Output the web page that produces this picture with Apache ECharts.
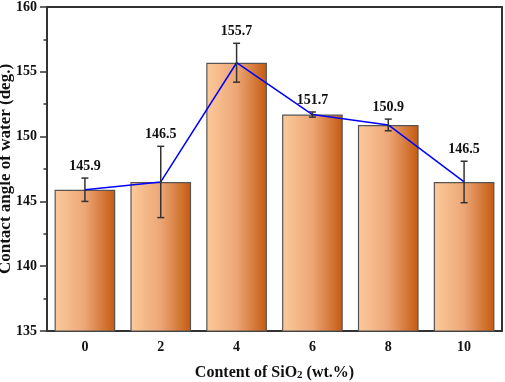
<!DOCTYPE html>
<html>
<head>
<meta charset="utf-8">
<script src="https://cdn.jsdelivr.net/npm/echarts@6/dist/echarts.min.js"></script>
<style>
  html, body { margin: 0; padding: 0; background: #fff; }
  #chart { width: 505px; height: 382px; }
</style>
</head>
<body>
<div id="chart"></div>
<script>
// SiO2 content (wt.%) vs water contact angle
const categories = ['0', '2', '4', '6', '8', '10']
const angles = [145.9, 146.5, 155.7, 151.7, 150.9, 146.5]
const errors = [0.9, 2.75, 1.5, 0.2, 0.45, 1.6]
const yTicks = { min: 135, max: 160, step: 5 }

const FONT = '"Liberation Serif", "Times New Roman", serif'
const AXIS_COLOR = '#333'

const chart = echarts.init(document.getElementById('chart'), null, { renderer: 'canvas' })

const barGradient = new echarts.graphic.LinearGradient(0, 0, 1, 0, [
  { offset: 0, color: '#fcca9b' },
  { offset: 0.5, color: '#eda676' },
  { offset: 1, color: '#c45a10' },
])

function renderError(params, api) {
  const x = api.value(0)
  const v = api.value(1)
  const e = api.value(2)
  const top = api.coord([x, v + e])
  const bot = api.coord([x, v - e])
  const cap = 3.5
  const style = { stroke: AXIS_COLOR, lineWidth: 1.5 }
  return {
    type: 'group',
    children: [
      { type: 'line', shape: { x1: top[0], y1: top[1], x2: bot[0], y2: bot[1] }, style },
      { type: 'line', shape: { x1: top[0] - cap, y1: top[1], x2: top[0] + cap, y2: top[1] }, style },
      { type: 'line', shape: { x1: bot[0] - cap, y1: bot[1], x2: bot[0] + cap, y2: bot[1] }, style },
      {
        type: 'text',
        x: top[0],
        y: top[1] - 5,
        style: {
          text: v.toFixed(1),
          fill: '#111',
          font: 'bold 14px ' + FONT,
          align: 'center',
          verticalAlign: 'bottom',
        },
      },
    ],
  }
}

const option = {
  animation: false,
  grid: { left: 47, right: 3, top: 7, bottom: 51, containLabel: false, outerBoundsMode: 'none' },
  xAxis: [
    {
      type: 'category',
      data: categories,
      axisLine: { lineStyle: { color: AXIS_COLOR, width: 2 } },
      axisTick: { alignWithLabel: true, length: 5, lineStyle: { color: AXIS_COLOR, width: 1.5 } },
      axisLabel: { color: '#111', fontFamily: FONT, fontWeight: 'bold', fontSize: 14, margin: 9 },
      name: '{a|Content of SiO}{sub|2}{a| (wt.%)}',
      nameLocation: 'middle',
      nameGap: 33,
      nameMoveOverlap: false,
      nameTextStyle: {
        rich: {
          a: { fontFamily: FONT, fontWeight: 'bold', fontSize: 16, color: '#111' },
          sub: { fontFamily: FONT, fontWeight: 'bold', fontSize: 11, color: '#111', verticalAlign: 'bottom', padding: [6, 0, 0, 0] },
        },
      },
    },
    {
      type: 'category',
      position: 'top',
      data: categories,
      axisLine: { lineStyle: { color: AXIS_COLOR, width: 2 } },
      axisTick: { show: false },
      axisLabel: { show: false },
    },
  ],
  yAxis: [
    {
      type: 'value',
      min: yTicks.min,
      max: yTicks.max,
      interval: yTicks.step,
      axisLine: { show: true, lineStyle: { color: AXIS_COLOR, width: 2 } },
      axisTick: { show: true, length: 7, lineStyle: { color: AXIS_COLOR, width: 1.5 } },
      minorTick: { show: true, splitNumber: 2, length: 3.5, lineStyle: { color: AXIS_COLOR, width: 1.5 } },
      splitLine: { show: false },
      axisLabel: { color: '#111', fontFamily: FONT, fontWeight: 'bold', fontSize: 14, margin: 10 },
      name: 'Contact angle of water (deg.)',
      nameLocation: 'middle',
      nameGap: 33,
      nameMoveOverlap: false,
      nameTextStyle: { fontFamily: FONT, fontWeight: 'bold', fontSize: 17, color: '#111' },
    },
    {
      type: 'value',
      position: 'right',
      min: yTicks.min,
      max: yTicks.max,
      axisLine: { show: true, lineStyle: { color: AXIS_COLOR, width: 2 } },
      axisTick: { show: false },
      axisLabel: { show: false },
      splitLine: { show: false },
    },
  ],
  series: [
    {
      type: 'bar',
      data: angles,
      barWidth: '80%',
      itemStyle: { color: barGradient, borderColor: '#555', borderWidth: 1.2 },
    },
    {
      type: 'line',
      data: angles,
      symbol: 'none',
      lineStyle: { color: '#0000ff', width: 1.5 },
      z: 3,
    },
    {
      type: 'custom',
      data: angles.map((v, i) => [i, v, errors[i]]),
      renderItem: renderError,
      encode: { x: 0, y: 1 },
      z: 4,
    },
  ],
}

chart.setOption(option)
</script>
</body>
</html>
